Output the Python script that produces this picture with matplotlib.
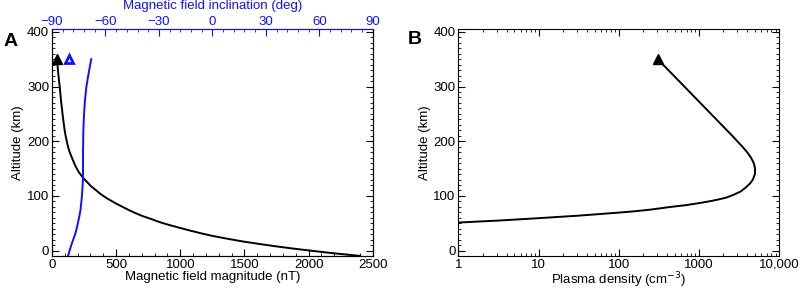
import matplotlib
matplotlib.use('Agg')
import matplotlib.pyplot as plt
import matplotlib.ticker as mticker
import numpy as np

plt.rcParams['font.family'] = ['Liberation Sans', 'DejaVu Sans']
plt.rcParams['font.size'] = 9.5

#------------------------------------------------
# Panel A: magnetic field magnitude vs altitude
mag_alt = [350, 325, 300, 275, 250, 235, 221, 210, 200, 192, 184, 177, 170, 162,
           154, 143, 132.6, 125, 118, 111, 105, 100, 95, 90, 85, 80, 74, 68.5,
           63, 58, 52, 47, 42, 37, 32, 27, 22, 16.5, 12, 8, 4, 0, -5, -9.7]
mag_nT = [39, 48, 60, 70, 82, 90, 98, 106, 115, 123, 132, 143, 155, 169,
          184, 210, 244, 275, 303, 340, 370, 400, 432, 470, 508, 550, 600, 651,
          708, 770, 840, 911, 990, 1070, 1155, 1248, 1360, 1492, 1620, 1740, 1870, 2012, 2200, 2401]

# inclination vs altitude (blue, top axis)
inc_alt = [350, 325, 300, 275, 250, 221, 180, 132.6, 115, 100, 87, 74.5, 62, 50, 41, 32, 21, 10, 0, -8.5]
inc_deg = [-68.0, -69.4, -70.7, -71.5, -72.0, -72.4, -72.6, -72.6, -72.9, -73.2, -73.6, -74.0,
           -74.7, -75.5, -76.1, -76.8, -78.0, -79.2, -80.1, -80.9]

# spacecraft markers
mark_alt = 350
mark_mag = 39
mark_inc = -80.7

#------------------------------------------------
# Panel B: plasma density vs altitude
dens_alt = [350, 330, 310, 290, 270, 250, 230, 210, 200, 190, 180, 170, 160, 150,
            140, 130, 123, 115, 108, 102, 97, 94, 91, 87, 83, 80, 75, 72, 69.5,
            64, 59.3, 55, 51.3]
dens_cm3 = [306, 415, 564, 765, 1038, 1409, 1914, 2596, 3000, 3480, 3980, 4450, 4820, 5000,
            4980, 4700, 4340, 3800, 3300, 2690, 2200, 1800, 1450, 1020, 680, 450, 250, 160, 100,
            32, 10, 3.2, 1]
mark_dens = 306

blue = '#1010ff'

fig = plt.figure(figsize=(8, 2.91), dpi=100)
axA = fig.add_axes([0.065, 0.120, 0.401, 0.780])
axB = fig.add_axes([0.573, 0.120, 0.401, 0.780])

## -----------------------------------------------------------------
# PANEL A
axA.plot(mag_nT, mag_alt, color='k', lw=1.4)
axA.plot([mark_mag], [mark_alt], marker='^', color='k', ms=7, ls='none')
axA.set_xlim(0, 2500)
axA.set_ylim(-10, 405)
axA.set_xticks([0, 500, 1000, 1500, 2000, 2500])
axA.xaxis.set_minor_locator(mticker.MultipleLocator(100))
axA.set_yticks([0, 100, 200, 300, 400])
axA.yaxis.set_minor_locator(mticker.MultipleLocator(10))
axA.tick_params(which='both', direction='in', top=False, right=True, pad=2)
axA.tick_params(which='major', length=5)
axA.tick_params(which='minor', length=2.5)
axA.set_xlabel('Magnetic field magnitude (nT)', labelpad=0)
axA.set_ylabel('Altitude (km)', labelpad=2)

axT = axA.twiny()
axT.plot(inc_deg, inc_alt, color=blue, lw=1.4)
axT.plot([mark_inc], [mark_alt], marker='^', mfc='none', mec=blue, mew=2, ms=6, ls='none')
axT.set_xlim(-90, 90)
axT.set_xticks([-90, -60, -30, 0, 30, 60, 90])
axT.xaxis.set_minor_locator(mticker.MultipleLocator(6))
axT.tick_params(which='both', direction='in', colors=blue, pad=1)
axT.tick_params(which='major', length=5)
axT.tick_params(which='minor', length=2.5)
axT.spines['top'].set_color(blue)
axT.set_xlabel('Magnetic field inclination (deg)', color=blue)
axT.xaxis.label.set_va('top')
axT.xaxis.set_label_coords(0.5, 1.127)

fig.text(0.004, 0.887, 'A', fontsize=14, fontweight='bold', va='top')

## -----------------------------------------------------------------
# PANEL B
axB.plot(dens_cm3, dens_alt, color='k', lw=1.4)
axB.plot([mark_dens], [mark_alt], marker='^', color='k', ms=7, ls='none')
axB.set_xscale('log')
axB.set_xlim(1, 10000)
axB.set_ylim(-10, 405)
axB.set_xticks([1, 10, 100, 1000, 10000])
axB.xaxis.set_major_formatter(mticker.FixedFormatter(['1', '10', '100', '1000', '10,000']))
axB.xaxis.set_minor_locator(mticker.LogLocator(subs=np.arange(2, 10)))
axB.xaxis.set_minor_formatter(mticker.NullFormatter())
axB.set_yticks([0, 100, 200, 300, 400])
axB.yaxis.set_minor_locator(mticker.MultipleLocator(10))
axB.tick_params(which='both', direction='in', top=True, right=True, pad=2)
axB.tick_params(which='major', length=5)
axB.tick_params(which='minor', length=2.5)
axB.set_xlabel('Plasma density (cm$^{-3}$)', labelpad=0)
axB.set_ylabel('Altitude (km)', labelpad=2)

fig.text(0.51, 0.893, 'B', fontsize=14, fontweight='bold', va='top')

fig.savefig('out.png', dpi=100)
